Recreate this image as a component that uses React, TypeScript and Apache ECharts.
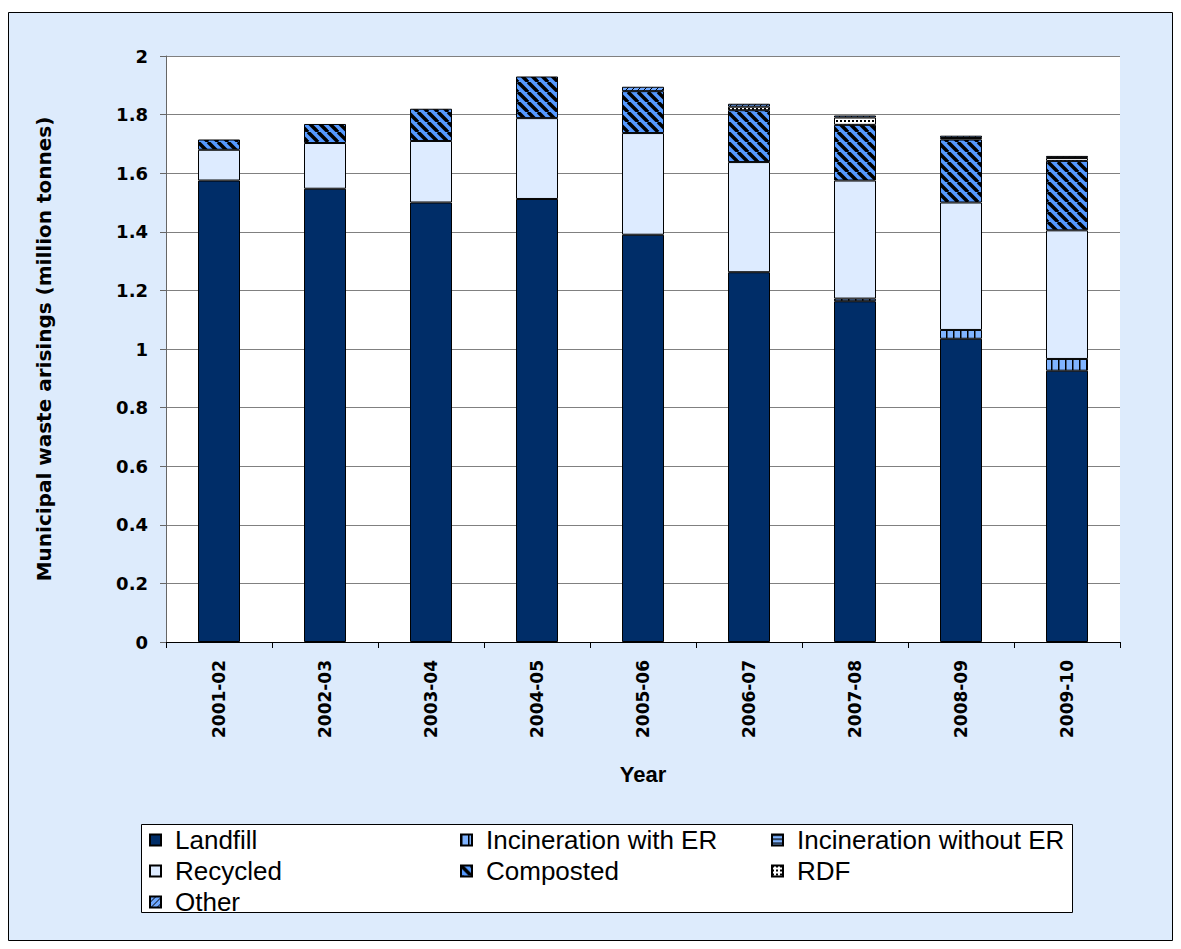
import React, { useEffect, useRef } from "react";
import * as echarts from "echarts";

const categories = ["2001-02", "2002-03", "2003-04", "2004-05", "2005-06", "2006-07", "2007-08", "2008-09", "2009-10"];
const landfill = [1.575, 1.547, 1.5, 1.512, 1.39, 1.262, 1.163, 1.035, 0.926];
const incinerationWithER = [0, 0, 0, 0, 0, 0, 0.009, 0.03, 0.04];
const incinerationWithoutER = [0, 0, 0, 0, 0, 0, 0, 0, 0];
const recycled = [0.105, 0.156, 0.21, 0.276, 0.347, 0.376, 0.403, 0.435, 0.439];
const composted = [0.035, 0.065, 0.11, 0.142, 0.143, 0.177, 0.19, 0.215, 0.237];
const rdf = [0, 0, 0, 0, 0, 0.012, 0.025, 0.005, 0.01];
const other = [0, 0, 0, 0, 0.015, 0.01, 0.007, 0.008, 0.007];
const yTicks = { min: 0, max: 2, interval: 0.2 };

function pattern(size: number, bg: string, draw: (ctx: CanvasRenderingContext2D, s: number) => void) {
  const c = document.createElement("canvas");
  c.width = size;
  c.height = size;
  const ctx = c.getContext("2d")!;
  ctx.fillStyle = bg;
  ctx.fillRect(0, 0, size, size);
  ctx.fillStyle = "#000";
  ctx.strokeStyle = "#000";
  draw(ctx, size);
  return { image: c.toDataURL(), repeat: "repeat", imageWidth: size, imageHeight: size } as any;
}

export default function App() {
  const ref = useRef<HTMLDivElement>(null);
  useEffect(() => {
    if (!ref.current) return;
    const chart = echarts.init(ref.current, null, { renderer: "svg" });

    const compostedPat = pattern(10, "#5599FF", (ctx, s) => {
      ctx.lineWidth = 3.5;
      for (const k of [-s, 0, s]) {
        ctx.beginPath();
        ctx.moveTo(k, 0);
        ctx.lineTo(k + s, s);
        ctx.stroke();
      }
    });
    const otherPat = pattern(6, "#6FA8FF", (ctx, s) => {
      ctx.lineWidth = 1;
      for (const k of [-s, 0, s]) {
        ctx.beginPath();
        ctx.moveTo(k, s);
        ctx.lineTo(k + s, 0);
        ctx.stroke();
      }
    });
    const incERPat = pattern(7, "#80B4FF", (ctx, s) => {
      ctx.fillRect(0, 0, 1.5, s);
    });
    const incNoERPat = pattern(4, "#80B4FF", (ctx, s) => {
      ctx.fillRect(0, 0, s, 1.3);
    });
    const rdfPat = pattern(4, "#FFFFFF", (ctx) => {
      ctx.fillRect(0, 0, 2, 2);
    });

    const toData = (arr: number[]) => arr.map((v) => (v === 0 ? "-" : v));
    const mk = (name: string, data: number[], color: any) => ({
      name,
      type: "bar",
      stack: "total",
      barWidth: 42,
      data: toData(data),
      itemStyle: { color, borderColor: "#000", borderWidth: 1 },
    });

    const legendText = {
      fontFamily: "Liberation Sans, Arial",
      fontSize: 26,
      color: "#000",
      padding: [0, 0, 0, 9],
    };
    const legendBase = {
      orient: "vertical",
      top: 815,
      itemWidth: 11,
      itemHeight: 11,
      itemGap: 5,
      padding: 0,
      icon: "rect",
      textStyle: legendText,
      selectedMode: false,
    };

    chart.setOption({
      animation: false,
      backgroundColor: "#DDEBFC",
      graphic: [
        { type: "rect", shape: { x: 0.5, y: 0.5, width: 1164, height: 928 }, style: { fill: "none", stroke: "#000", lineWidth: 1 }, z: 10 },
        { type: "rect", shape: { x: 133.5, y: 812.5, width: 931, height: 88 }, style: { fill: "#fff", stroke: "#000", lineWidth: 1 }, z: 1 },
      ],
      grid: { left: 158, top: 44, right: 53, bottom: 299, show: true, backgroundColor: "#fff", borderWidth: 0 },
      legend: [
        { ...legendBase, left: 141, data: ["Landfill", "Recycled", "Other"] },
        { ...legendBase, left: 452, data: ["Incineration with ER", "Composted"] },
        { ...legendBase, left: 763, data: ["Incineration without ER", "RDF"] },
      ],
      xAxis: {
        type: "category",
        data: categories,
        name: "Year",
        nameLocation: "middle",
        nameGap: 121,
        nameTextStyle: { fontFamily: "Liberation Sans, Arial", fontWeight: "bold", fontSize: 22, color: "#000" },
        axisLine: { lineStyle: { color: "#000", width: 1 } },
        axisTick: { show: true, length: 6, lineStyle: { color: "#000" } },
        axisLabel: { rotate: 90, margin: 18, fontFamily: "DejaVu Sans", fontWeight: "bold", fontSize: 17, color: "#000" },
      },
      yAxis: {
        type: "value",
        ...yTicks,
        name: "Municipal waste arisings (million tonnes)",
        nameLocation: "middle",
        nameRotate: 90,
        nameGap: 112,
        nameTextStyle: { fontFamily: "DejaVu Sans", fontWeight: "bold", fontSize: 20, color: "#000" },
        axisLine: { show: true, lineStyle: { color: "#666", width: 1 } },
        axisTick: { show: true, length: 6, lineStyle: { color: "#666" } },
        axisLabel: { margin: 18, fontFamily: "DejaVu Sans", fontWeight: "bold", fontSize: 18, color: "#000" },
        splitLine: { lineStyle: { color: "#808080", width: 1 } },
      },
      series: [
        mk("Landfill", landfill, "#002D68"),
        mk("Incineration with ER", incinerationWithER, incERPat),
        mk("Incineration without ER", incinerationWithoutER, incNoERPat),
        mk("Recycled", recycled, "#DDEBFF"),
        mk("Composted", composted, compostedPat),
        mk("RDF", rdf, rdfPat),
        mk("Other", other, otherPat),
      ],
    });
    return () => chart.dispose();
  }, []);
  return (
    <div style={{ paddingTop: 4 }}>
      <div ref={ref} style={{ width: 1165, height: 929 }} />
    </div>
  );
}
